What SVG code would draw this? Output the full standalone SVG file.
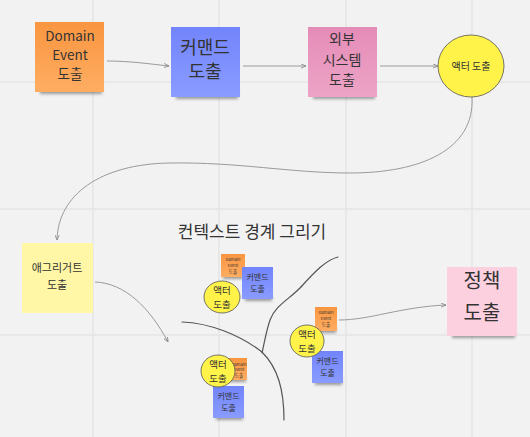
<svg xmlns="http://www.w3.org/2000/svg" width="530" height="437" viewBox="0 0 530 437">
<defs>
<linearGradient id="gOrange" x1="0" y1="0" x2="0" y2="1"><stop offset="0" stop-color="#f99540"/><stop offset="1" stop-color="#ffad62"/></linearGradient>
<linearGradient id="gBlue" x1="0" y1="0" x2="0" y2="1"><stop offset="0" stop-color="#7284fb"/><stop offset="1" stop-color="#8a9cff"/></linearGradient>
<linearGradient id="gPink" x1="0" y1="0" x2="0" y2="1"><stop offset="0" stop-color="#e58cb8"/><stop offset="1" stop-color="#eda4c6"/></linearGradient>
<filter id="sh" x="-20%" y="-20%" width="140%" height="160%"><feGaussianBlur stdDeviation="1.5"/></filter>
<marker id="arr" viewBox="0 0 6 6" refX="6" refY="3" markerWidth="5" markerHeight="5" orient="auto"><path d="M0,0.5 L6,3 L0,5.5" fill="none" stroke="#888" stroke-width="1"/></marker>
</defs>
<style>
text{font-family:"Noto Sans CJK KR","Noto Sans",sans-serif;fill:#333;text-anchor:middle;}
.conn{fill:none;stroke:#9a9a9a;stroke-width:1;}
.hand{fill:none;stroke:#555;stroke-width:1.2;stroke-linecap:round;}
.grid{stroke:#e4e4e4;stroke-width:1.5;}
.shadow{fill:#333;opacity:0.45;filter:url(#sh);}
.circ{fill:#fff34a;stroke:#555;stroke-width:0.8;}
.ct{font-size:9.5px;}
</style>
<rect width="530" height="437" fill="#f2f2f2"/>
<g id="grid">
<line class="grid" x1="93" y1="0" x2="93" y2="437"/>
<line class="grid" x1="219" y1="0" x2="219" y2="437"/>
<line class="grid" x1="346" y1="0" x2="346" y2="437"/>
<line class="grid" x1="472" y1="0" x2="472" y2="437"/>
<line class="grid" x1="0" y1="82" x2="530" y2="82"/>
<line class="grid" x1="0" y1="209" x2="530" y2="209"/>
<line class="grid" x1="0" y1="335" x2="530" y2="335"/>
</g>
<g id="connectors">
<path class="conn" d="M107,61 C130,61 150,64 169,66" marker-end="url(#arr)"/>
<path class="conn" d="M243,66 L306,66" marker-end="url(#arr)"/>
<path class="conn" d="M380,66 L438,66" marker-end="url(#arr)"/>
<path class="conn" d="M472,97 C475,150 420,173 350,173 C290,173 240,162 170,163 C100,164 58,195 57,240" marker-end="url(#arr)"/>
<path class="conn" d="M95,282 C125,283 150,308 168,342" marker-end="url(#arr)"/>
<path class="conn" d="M339,320 C370,320 400,307 446,305" marker-end="url(#arr)"/>
</g>
<g id="boundary-lines">
<path class="hand" d="M182,322 C210,323 240,335 262,352 C278,368 284,390 284,420"/>
<path class="hand" d="M338,257 C325,260 312,275 300,288 C288,300 275,306 270,320 C266,332 265,340 262,353"/>
</g>
<g id="title"><text x="252" y="238" font-size="17">컨텍스트 경계 그리기</text></g>
<g id="domain-event">
<rect class="shadow" x="40" y="86" width="62" height="8"/>
<rect x="35" y="22" width="69" height="70" fill="url(#gOrange)"/>
<text x="70" y="41" font-size="13.5">Domain</text>
<text x="70" y="60" font-size="13.5">Event</text>
<text x="70" y="79" font-size="13.5">도출</text>
</g>
<g id="command">
<rect class="shadow" x="176" y="91" width="62" height="8"/>
<rect x="171" y="27" width="69" height="70" fill="url(#gBlue)"/>
<text x="205" y="53.5" font-size="18">커맨드</text>
<text x="205" y="78" font-size="18">도출</text>
</g>
<g id="external-system">
<rect class="shadow" x="313" y="91" width="62" height="8"/>
<rect x="308" y="27" width="69" height="70" fill="url(#gPink)"/>
<text x="342" y="43.5" font-size="14">외부</text>
<text x="342" y="65" font-size="14">시스템</text>
<text x="342" y="84.5" font-size="14">도출</text>
</g>
<g id="actor">
<ellipse class="circ" cx="471" cy="66" rx="33" ry="31"/>
<text x="471" y="69.5" font-size="10">액터 도출</text>
</g>
<g id="aggregate">
<rect x="22" y="243" width="71" height="70" fill="#fff7a6"/>
<text x="57" y="271.5" font-size="11">애그리거트</text>
<text x="57" y="288.5" font-size="11">도출</text>
</g>
<g id="policy">
<rect class="shadow" x="452" y="330" width="63" height="8"/>
<rect x="447" y="267" width="70" height="69" fill="#fdd0e0"/>
<text x="482" y="288" font-size="20">정책</text>
<text x="482" y="320" font-size="20">도출</text>
</g>
<g id="cluster1">
<rect class="shadow" x="223" y="274" width="20" height="5"/>
<rect x="221" y="254" width="24" height="23" fill="url(#gOrange)"/>
<text x="233" y="261" font-size="4">Domain</text>
<text x="233" y="267" font-size="4">Event</text>
<text x="233" y="273" font-size="4.5">도출</text>
<rect class="shadow" x="245" y="295" width="27" height="6"/>
<rect x="242" y="267" width="31" height="32" fill="url(#gBlue)"/>
<text x="257.5" y="280" font-size="8">커맨드</text>
<text x="257.5" y="292" font-size="8">도출</text>
<ellipse class="circ" cx="222" cy="297" rx="18" ry="16"/>
<text class="ct" x="222" y="293.5">액터</text>
<text class="ct" x="222" y="308">도출</text>
</g>
<g id="cluster2">
<rect class="shadow" x="317" y="328" width="19" height="5"/>
<rect x="315" y="307" width="22" height="24" fill="url(#gOrange)"/>
<text x="326" y="314" font-size="4">Domain</text>
<text x="326" y="320" font-size="4">Event</text>
<text x="326" y="326" font-size="4.5">도출</text>
<rect class="shadow" x="315" y="379" width="27" height="6"/>
<rect x="312" y="351" width="31" height="32" fill="url(#gBlue)"/>
<text x="327.5" y="364" font-size="8">커맨드</text>
<text x="327.5" y="376" font-size="8">도출</text>
<ellipse class="circ" cx="307" cy="341" rx="17" ry="16"/>
<text class="ct" x="307" y="337.5">액터</text>
<text class="ct" x="307" y="352">도출</text>
</g>
<g id="cluster3">
<rect class="shadow" x="227" y="377" width="19" height="5"/>
<rect x="225" y="358" width="22" height="22" fill="url(#gOrange)"/>
<text x="239" y="366" font-size="4">Domain</text>
<text x="239" y="371" font-size="4">Event</text>
<text x="239" y="377" font-size="4.5">도출</text>
<rect class="shadow" x="216" y="414" width="27" height="6"/>
<rect x="213" y="386" width="31" height="32" fill="url(#gBlue)"/>
<text x="228.5" y="399" font-size="8">커맨드</text>
<text x="228.5" y="411" font-size="8">도출</text>
<ellipse class="circ" cx="218" cy="371" rx="17" ry="16"/>
<text class="ct" x="218" y="367.5">액터</text>
<text class="ct" x="218" y="382">도출</text>
</g>
</svg>
